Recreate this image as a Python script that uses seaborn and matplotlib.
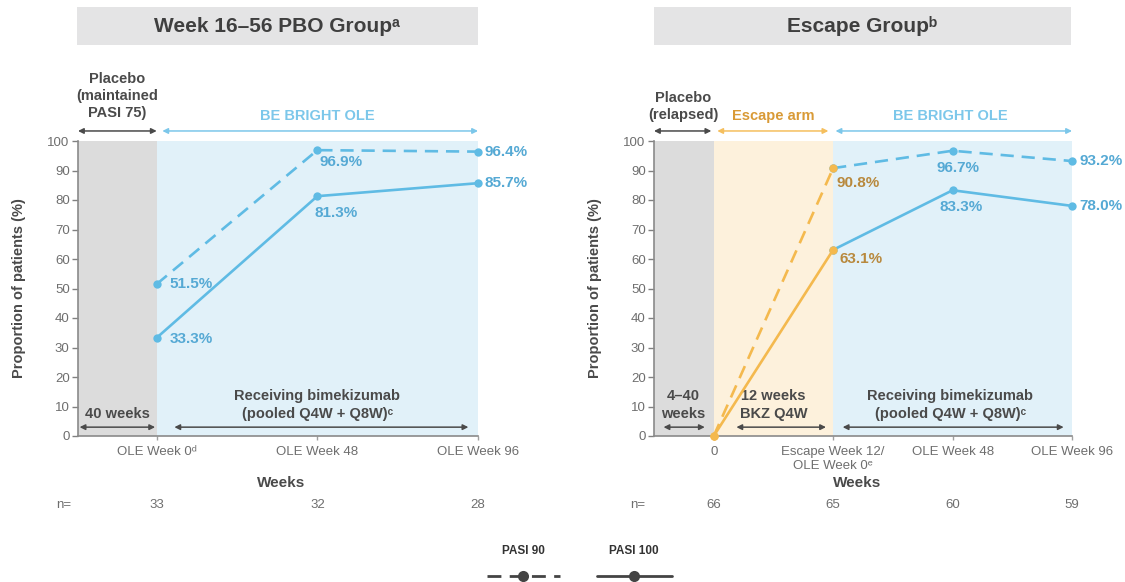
import numpy as np
import pandas as pd
import matplotlib.pyplot as plt
import seaborn as sns
from matplotlib.patches import Rectangle
from matplotlib.lines import Line2D

# data
pbo_ticks = ["OLE Week 0ᵈ", "OLE Week 48", "OLE Week 96"]
pbo_n = [33, 32, 28]
pbo_pasi90 = [51.5, 96.9, 96.4]
pbo_pasi100 = [33.3, 81.3, 85.7]

esc_ticks = ["0", "Escape Week 12/\nOLE Week 0ᵉ", "OLE Week 48", "OLE Week 96"]
esc_n = [66, 65, 60, 59]
esc_pasi90 = [0.0, 90.8, 96.7, 93.2]
esc_pasi100 = [0.0, 63.1, 83.3, 78.0]

BLUE = "#5fbbe4"
BLUE_TXT = "#55a9d4"
ORANGE = "#f4b94e"
ORANGE_TXT = "#b8893d"
DARK = "#4a4a4a"
GREY_TXT = "#6e6e6e"
FONTS = ["Liberation Sans", "DejaVu Sans"]

sns.set_theme(style="white")
plt.rcParams["font.family"] = FONTS

fig = plt.figure(figsize=(11.25, 5.82), dpi=100)
W, H = 1125, 582

def px_axes(x0, x1, y0=141, y1=436):
    return fig.add_axes([x0 / W, 1 - y1 / H, (x1 - x0) / W, (y1 - y0) / H])

ax1 = px_axes(78, 478)
ax2 = px_axes(654, 1072)

DASH = (0, (5, 3))


def draw_line(ax, xs, ys, color, dashed):
    df = pd.DataFrame({"x": xs, "y": ys})
    sns.lineplot(data=df, x="x", y="y", ax=ax, color=color, lw=1.9,
                 linestyle=DASH if dashed else "-", marker="o", markersize=6,
                 markeredgewidth=0, clip_on=False, sort=False, zorder=4)


def style_axes(ax, ticks, xlim, ylab_x):
    ax.set_xlim(*xlim)
    ax.set_ylim(0, 100)
    ax.set_yticks(range(0, 101, 10))
    ax.set_xticks(range(len(ticks)))
    ax.set_xticklabels(ticks, fontsize=9.5, color=GREY_TXT, linespacing=1.3)
    ax.tick_params(axis="y", labelsize=9.5, labelcolor=GREY_TXT, length=4,
                   width=1, color="#808080", direction="out", left=True, pad=2)
    ax.tick_params(axis="x", length=3, width=1, color="#a0a0a0",
                   direction="out", bottom=True, pad=4)
    for s in ["top", "right"]:
        ax.spines[s].set_visible(False)
    for s in ["left", "bottom"]:
        ax.spines[s].set_color("#8a8a8a")
        ax.spines[s].set_linewidth(1.2)
    ax.set_xlabel("")
    ax.set_ylabel("Proportion of patients (%)", fontsize=10.5,
                  fontweight="bold", color=DARK)
    ax.yaxis.set_label_coords(ylab_x, 0.5)
    ax.grid(False)
    ax.set_facecolor("white")


def arrow(ax, x0, x1, y, color):
    ax.annotate("", xy=(x1, y), xytext=(x0, y), annotation_clip=False,
                arrowprops=dict(arrowstyle="<|-|>", color=color, lw=1.1,
                                mutation_scale=8, shrinkA=0, shrinkB=0))


def label(ax, x, y, s, color, dx, dy, ha="left"):
    ax.annotate(s, (x, y), xytext=(dx * 0.72, dy * 0.72),
                textcoords="offset points", ha=ha, va="center",
                fontsize=11, fontweight="bold", color=color, zorder=6,
                annotation_clip=False)


# ---------- left panel: Week 16-56 PBO group ----------
ax1.axvspan(-0.49, 0, color="#dcdcdc", lw=0, zorder=0)
ax1.axvspan(0, 2.0, color="#e1f1f9", lw=0, zorder=0)
xs = list(range(3))
draw_line(ax1, xs, pbo_pasi90, BLUE, True)
draw_line(ax1, xs, pbo_pasi100, BLUE, False)
style_axes(ax1, pbo_ticks, (-0.49, 2.0), -0.13)

label(ax1, 0, pbo_pasi90[0], "51.5%", BLUE_TXT, 13, 0)
label(ax1, 0, pbo_pasi100[0], "33.3%", BLUE_TXT, 13, -1)
label(ax1, 1, pbo_pasi90[1], "96.9%", BLUE_TXT, 2, -12)
label(ax1, 1, pbo_pasi100[1], "81.3%", BLUE_TXT, -3, -17)
label(ax1, 2, pbo_pasi90[2], "96.4%", BLUE_TXT, 7, 0)
label(ax1, 2, pbo_pasi100[2], "85.7%", BLUE_TXT, 7, 0)

# top phase annotations
ax1.text(-0.245, 115.3, "Placebo\n(maintained\nPASI 75)", ha="center",
         va="center", fontsize=10.5, fontweight="bold", color=DARK,
         linespacing=1.3, clip_on=False)
ax1.text(1.0, 108.5, "BE BRIGHT OLE", ha="center", va="center",
         fontsize=10.5, fontweight="bold", color="#7cc7ea", clip_on=False)
arrow(ax1, -0.49, 0.0, 103.4, DARK)
arrow(ax1, 0.035, 2.0, 103.4, "#7cc7ea")

# bottom phase annotations
ax1.text(-0.245, 7.5, "40 weeks", ha="center", va="center", fontsize=10.5,
         fontweight="bold", color=DARK)
ax1.text(1.0, 10.5, "Receiving bimekizumab\n(pooled Q4W + Q8W)ᶜ",
         ha="center", va="center", fontsize=10.5, fontweight="bold",
         color=DARK, linespacing=1.3)
arrow(ax1, -0.48, -0.01, 3, DARK)
arrow(ax1, 0.11, 1.94, 3, DARK)

ax1.text(0.775, -16, "Weeks", ha="center", va="center", fontsize=11,
         fontweight="bold", color=DARK, clip_on=False)
ax1.text(-0.58, -23.4, "n=", ha="center", va="center", fontsize=9.5,
         color=GREY_TXT, clip_on=False)
for i, n in enumerate(pbo_n):
    ax1.text(i, -23.4, str(n), ha="center", va="center", fontsize=9.5,
             color=GREY_TXT, clip_on=False)

# ---------- right panel: Escape group ----------
ax2.axvspan(-0.5, 0, color="#dcdcdc", lw=0, zorder=0)
ax2.axvspan(0, 1, color="#fdf1dc", lw=0, zorder=0)
ax2.axvspan(1, 3.0, color="#e1f1f9", lw=0, zorder=0)
xs = list(range(4))
draw_line(ax2, xs[1:], esc_pasi90[1:], BLUE, True)
draw_line(ax2, xs[1:], esc_pasi100[1:], BLUE, False)
draw_line(ax2, xs[:2], esc_pasi90[:2], ORANGE, True)
draw_line(ax2, xs[:2], esc_pasi100[:2], ORANGE, False)
style_axes(ax2, esc_ticks, (-0.5, 3.0), -0.125)

label(ax2, 1, esc_pasi90[1], "90.8%", ORANGE_TXT, 3, -15)
label(ax2, 1, esc_pasi100[1], "63.1%", ORANGE_TXT, 6, -9)
label(ax2, 2, esc_pasi90[2], "96.7%", BLUE_TXT, 5, -17, ha="center")
label(ax2, 2, esc_pasi100[2], "83.3%", BLUE_TXT, 9, -17, ha="center")
label(ax2, 3, esc_pasi90[3], "93.2%", BLUE_TXT, 7, 0)
label(ax2, 3, esc_pasi100[3], "78.0%", BLUE_TXT, 7, 0)

ax2.text(-0.255, 111.7, "Placebo\n(relapsed)", ha="center", va="center",
         fontsize=10.5, fontweight="bold", color=DARK, linespacing=1.3,
         clip_on=False)
ax2.text(0.5, 108.5, "Escape arm", ha="center", va="center", fontsize=10.5,
         fontweight="bold", color="#d99a36", clip_on=False)
ax2.text(1.98, 108.5, "BE BRIGHT OLE", ha="center", va="center",
         fontsize=10.5, fontweight="bold", color="#7cc7ea", clip_on=False)
arrow(ax2, -0.5, -0.02, 103.4, DARK)
arrow(ax2, 0.03, 0.96, 103.4, "#f5bf5e")
arrow(ax2, 1.02, 3.0, 103.4, "#7cc7ea")

ax2.text(-0.255, 10.5, "4–40\nweeks", ha="center", va="center",
         fontsize=10.5, fontweight="bold", color=DARK, linespacing=1.3)
ax2.text(0.5, 10.5, "12 weeks\nBKZ Q4W", ha="center", va="center",
         fontsize=10.5, fontweight="bold", color=DARK, linespacing=1.3)
ax2.text(1.98, 10.5, "Receiving bimekizumab\n(pooled Q4W + Q8W)ᶜ",
         ha="center", va="center", fontsize=10.5, fontweight="bold",
         color=DARK, linespacing=1.3)
arrow(ax2, -0.42, -0.075, 3, DARK)
arrow(ax2, 0.19, 0.94, 3, DARK)
arrow(ax2, 1.08, 2.93, 3, DARK)

ax2.text(1.2, -16, "Weeks", ha="center", va="center", fontsize=11,
         fontweight="bold", color=DARK, clip_on=False)
ax2.text(-0.636, -23.4, "n=", ha="center", va="center", fontsize=9.5,
         color=GREY_TXT, clip_on=False)
for i, n in enumerate(esc_n):
    ax2.text(i, -23.4, str(n), ha="center", va="center", fontsize=9.5,
             color=GREY_TXT, clip_on=False)

# ---------- title boxes ----------
for x0, x1, title in [(77, 478, "Week 16–56 PBO Groupᵃ"),
                      (654, 1071, "Escape Groupᵇ")]:
    fig.patches.append(Rectangle((x0 / W, 1 - 45 / H), (x1 - x0) / W, 38 / H,
                                 transform=fig.transFigure, color="#e4e4e5",
                                 lw=0, zorder=0))
    fig.text((x0 + x1) / 2 / W, 1 - 26 / H, title, ha="center", va="center",
             fontsize=15, fontweight="bold", color="#3f3f3f")

# ---------- legend ----------
for cx, x0, x1, name, ls in [(523, 487, 560, "PASI 90", DASH),
                             (634, 597, 672, "PASI 100", "-")]:
    fig.text(cx / W, 1 - 551 / H, name, ha="center", va="center",
             fontsize=8.5, fontweight="bold", color="#333333")
    fig.add_artist(Line2D([x0 / W, x1 / W], [1 - 576 / H] * 2, color="#444444",
                          lw=2, linestyle=ls, transform=fig.transFigure))
    fig.add_artist(Line2D([cx / W], [1 - 576 / H], color="#444444", marker="o",
                          markersize=8, markeredgewidth=0,
                          transform=fig.transFigure))

fig.savefig("out.png", dpi=100)
